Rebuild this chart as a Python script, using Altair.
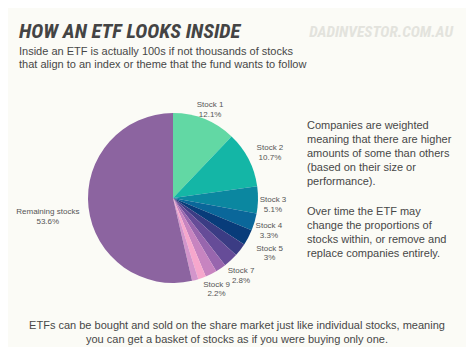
import altair as alt
import pandas as pd

# ---- data ----
names = ["Stock 1", "Stock 2", "Stock 3", "Stock 4", "Stock 5", "Stock 6",
         "Stock 7", "Stock 8", "Stock 9", "Stock 10", "Stock 11", "Remaining stocks"]
values = [12.1, 10.7, 5.1, 3.3, 3.0, 2.5, 2.8, 2.0, 2.2, 1.5, 1.2, 53.6]
pct_labels = ["12.1%", "10.7%", "5.1%", "3.3%", "3%", "", "2.8%", "", "2.2%", "", "", "53.6%"]
show_label = [True, True, True, True, True, False, True, False, True, False, False, True]
colors = ["#62d8a4", "#14b6a6", "#0b87a0", "#0a679a", "#083c7a", "#3b3c84",
          "#664c98", "#9866ae", "#c784c0", "#f6a7cc", "#d395cb", "#8c64a0"]

title_text = "HOW AN ETF LOOKS INSIDE"
watermark_text = "DADINVESTOR.COM.AU"
subtitle_lines = ["Inside an ETF is actually 100s if not thousands of stocks",
                  "that align to an index or theme that the fund wants to follow"]
para1_lines = ["Companies are weighted", "meaning that there are higher",
               "amounts of some than others", "(based on their size or", "performance)."]
para2_lines = ["Over time the ETF may", "change the proportions of",
               "stocks within, or remove and", "replace companies entirely."]
bottom_lines = ["ETFs can be bought and sold on the share market just like individual stocks, meaning",
                "you can get a basket of stocks as if you were buying only one."]

df = pd.DataFrame({
    "name": names,
    "value": values,
    "idx": list(range(len(names))),
    "label": [f"{n}\n{p}" if s else "" for n, p, s in zip(names, pct_labels, show_label)],
})

CX, CY = 165, 190
TXT = "#474747"
SANS = "Liberation Sans"
COND = "'Roboto Condensed', 'DejaVu Sans Condensed', sans-serif"

pie = alt.Chart(df).mark_arc(outerRadius=85, stroke=None).encode(
    theta=alt.Theta("value:Q", stack=True),
    order=alt.Order("idx:Q"),
    color=alt.Color("name:N", scale=alt.Scale(domain=names, range=colors), legend=None, sort=None),
    x=alt.value(CX), y=alt.value(CY),
)

labels = alt.Chart(df).transform_window(
    cum="sum(value)", sort=[alt.SortField("idx")], frame=[None, 0]
).transform_joinaggregate(
    total="sum(value)"
).transform_calculate(
    ang="2 * PI * (datum.cum - datum.value / 2) / datum.total",
    r="datum.name == 'Remaining stocks' ? 126 : (datum.name == 'Stock 2' || datum.name == 'Stock 5' ? 109 : (datum.name == 'Stock 9' ? 97 : 100))",
).transform_filter("datum.label != ''").mark_text(
    fontSize=8, color="#555555", lineBreak="\n", lineHeight=9.5,
    align="center", baseline="middle", font=SANS,
).encode(
    text="label:N",
    theta=alt.Theta("ang:Q", scale=None),
    radius=alt.Radius("r:Q", scale=None),
    x=alt.value(CX), y=alt.value(CY),
)

one = alt.Data(values=[{"k": 1}])

def block(lines, x, y, size, color=TXT, align="left", font=SANS, weight="normal",
          style="normal", lh=14):
    return alt.Chart(one).mark_text(
        text="\n".join(lines), lineBreak="\n", lineHeight=lh, fontSize=size,
        color=color, align=align, baseline="alphabetic", font=font,
        fontWeight=weight, fontStyle=style,
    ).encode(x=alt.value(x), y=alt.value(y))

title = block([title_text], 11, 30, 20.5, color="#444444", font=COND, weight="bold", style="italic")
water = block([watermark_text], 445, 29, 15.5, color="#e3e3dd", align="right",
              font=COND, weight="bold", style="italic")
sub = block(subtitle_lines, 11, 47, 11, lh=13)
p1 = block(para1_lines, 299, 121, 11, lh=14)
p2 = block(para2_lines, 299, 207, 11, lh=14)
bottom = block(bottom_lines, 229, 321, 11, align="center", lh=14)

chart = alt.layer(pie, labels, title, water, sub, p1, p2, bottom).properties(
    width=458, height=339,
    autosize=alt.AutoSizeParams(type="fit", contains="padding"),
    padding=0,
    background="#fbfbf6",
).configure_view(stroke=None)

chart.save("out.html", embed_options={"renderer": "svg", "actions": False})
